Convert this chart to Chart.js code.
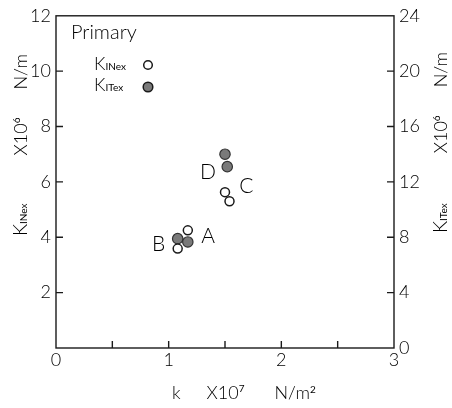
<!DOCTYPE html>
<html>
<head>
<meta charset="utf-8">
<script src="https://cdn.jsdelivr.net/npm/chart.js@4.4.1/dist/chart.umd.min.js"></script>
<style>
  html, body { margin: 0; padding: 0; background: #fff; }
</style>
</head>
<body>
<canvas id="chart" width="452" height="408"></canvas>
<script>
// K_INex (open circles, left axis) and K_ITex (filled circles, right axis) vs k
const kInexX = [1.17, 1.08, 1.50, 1.54];
const kInexY = [4.25, 3.59, 5.63, 5.30];
const kItexX = [1.08, 1.17, 1.50, 1.52];
const kItexY = [7.90, 7.66, 14.0, 13.1];

// point letters, placed in data units (k, K_INex)
const noteText = ["D", "C", "A", "B"];
const noteX = [1.35, 1.69, 1.35, 0.91];
const noteY = [6.34, 5.84, 4.04, 3.75];

const xTicks = [0, 1, 2, 3];
const leftTicks = [2, 4, 6, 8, 10, 12];
const rightTicks = [0, 4, 8, 12, 16, 20, 24];

const FONT = "Lato, 'DejaVu Sans', sans-serif";
const WEIGHT = "300";
const INK = "#000";

// parts: [text, size, dy, gapAfter, weight]
function drawParts(ctx, parts, x, y) {
    parts.forEach(p => {
        ctx.font = (p[4] || WEIGHT) + " " + p[1] + "px " + FONT;
        ctx.fillText(p[0], x, y + (p[2] || 0));
        x += ctx.measureText(p[0]).width + (p[3] || 0);
    });
}

const decor = {
    id: "decor",
    afterDraw(chart) {
        const ctx = chart.ctx;
        const a = chart.chartArea;
        const sx = chart.scales.x, sy = chart.scales.y, sy2 = chart.scales.y2;
        ctx.save();
        ctx.strokeStyle = "#1a1a1a";
        ctx.fillStyle = INK;
        ctx.lineWidth = 1.4;
        ctx.strokeRect(a.left, a.top, a.right - a.left, a.bottom - a.top);

        // inward tick marks
        ctx.beginPath();
        sx.ticks.forEach(t => {
            const px = sx.getPixelForValue(t.value);
            if (px <= a.left + 1 || px >= a.right - 1) return;
            ctx.moveTo(px, a.bottom); ctx.lineTo(px, a.bottom - 7);
        });
        sy.ticks.forEach(t => {
            const py = sy.getPixelForValue(t.value);
            if (py <= a.top + 1 || py >= a.bottom - 1) return;
            ctx.moveTo(a.left, py); ctx.lineTo(a.left + 7, py);
        });
        sy2.ticks.forEach(t => {
            const py = sy2.getPixelForValue(t.value);
            if (py <= a.top + 1 || py >= a.bottom - 1) return;
            ctx.moveTo(a.right, py); ctx.lineTo(a.right - 7, py);
        });
        ctx.stroke();

        // letters beside the points
        ctx.textAlign = "center";
        ctx.textBaseline = "middle";
        ctx.font = WEIGHT + " 21px " + FONT;
        noteText.forEach((s, i) => {
            ctx.fillText(s, sx.getPixelForValue(noteX[i]), sy.getPixelForValue(noteY[i]));
        });

        // legend
        ctx.textAlign = "left";
        ctx.textBaseline = "alphabetic";
        drawParts(ctx, [["Primary", 20]], 71, 39);
        drawParts(ctx, [["K", 18], ["INex", 10, 0, 0, "400"]], 94, 70);
        drawParts(ctx, [["K", 18], ["ITex", 10, 0, 0, "400"]], 94, 91);
        ctx.lineWidth = 1.5;
        ctx.strokeStyle = "#1a1a1a";
        ctx.beginPath(); ctx.arc(148, 65, 4.3, 0, Math.PI * 2);
        ctx.fillStyle = "#fff"; ctx.fill(); ctx.stroke();
        ctx.beginPath(); ctx.arc(148, 87, 4.8, 0, Math.PI * 2);
        ctx.fillStyle = "#7a7a7a"; ctx.fill(); ctx.stroke();
        ctx.fillStyle = INK;

        // axis titles
        drawParts(ctx, [["k", 18, 0, 26], ["X10", 18], ["7", 10, -7, 30, "400"], ["N/m", 18], ["2", 10, -6, 0, "400"]], 172, 399);

        ctx.save();
        ctx.translate(27, 236);
        ctx.rotate(-Math.PI / 2);
        drawParts(ctx, [["K", 19], ["INex", 10, 0, 48, "400"], ["X10", 18], ["6", 10, -7, 28, "400"], ["N/m", 18]], 0, 0);
        ctx.restore();

        ctx.save();
        ctx.translate(447, 233);
        ctx.rotate(-Math.PI / 2);
        drawParts(ctx, [["K", 19], ["ITex", 10, 0, 50, "400"], ["X10", 18], ["6", 10, -7, 28, "400"], ["N/m", 18]], 0, 0);
        ctx.restore();

        ctx.restore();
    }
};

const tickFont = { family: FONT, size: 18, weight: WEIGHT };

new Chart(document.getElementById("chart"), {
    type: "scatter",
    data: {
        datasets: [
            {
                label: "KINex",
                data: kInexX.map((x, i) => ({ x: x, y: kInexY[i] })),
                yAxisID: "y",
                pointRadius: 4.5,
                pointBorderWidth: 1.5,
                pointBackgroundColor: "#fff",
                pointBorderColor: "#1a1a1a"
            },
            {
                label: "KITex",
                data: kItexX.map((x, i) => ({ x: x, y: kItexY[i] })),
                yAxisID: "y2",
                pointRadius: 5.2,
                pointBorderWidth: 1.2,
                pointBackgroundColor: "#7a7a7a",
                pointBorderColor: "#333"
            }
        ]
    },
    options: {
        responsive: false,
        animation: false,
        layout: { padding: { top: 13, left: 0, right: 0, bottom: 0 } },
        plugins: { legend: { display: false }, tooltip: { enabled: false } },
        scales: {
            x: {
                type: "linear", min: 0, max: 3,
                grid: { display: false, drawTicks: false },
                border: { display: false },
                ticks: {
                    stepSize: 0.5, padding: 1, color: INK, font: tickFont, maxRotation: 0,
                    callback: v => xTicks.includes(v) ? v : ""
                },
                afterFit: s => { s.height = 60; }
            },
            y: {
                position: "left", min: 0, max: 12,
                grid: { display: false, drawTicks: false },
                border: { display: false },
                ticks: {
                    stepSize: 2, padding: 5, color: INK, font: tickFont,
                    callback: v => leftTicks.includes(v) ? v : ""
                },
                afterFit: s => { s.width = 56; }
            },
            y2: {
                position: "right", min: 0, max: 24,
                grid: { display: false, drawTicks: false },
                border: { display: false },
                ticks: {
                    stepSize: 4, padding: 5, color: INK, font: tickFont,
                    callback: v => rightTicks.includes(v) ? v : ""
                },
                afterFit: s => { s.width = 58; }
            }
        }
    },
    plugins: [decor]
});
</script>
</body>
</html>
